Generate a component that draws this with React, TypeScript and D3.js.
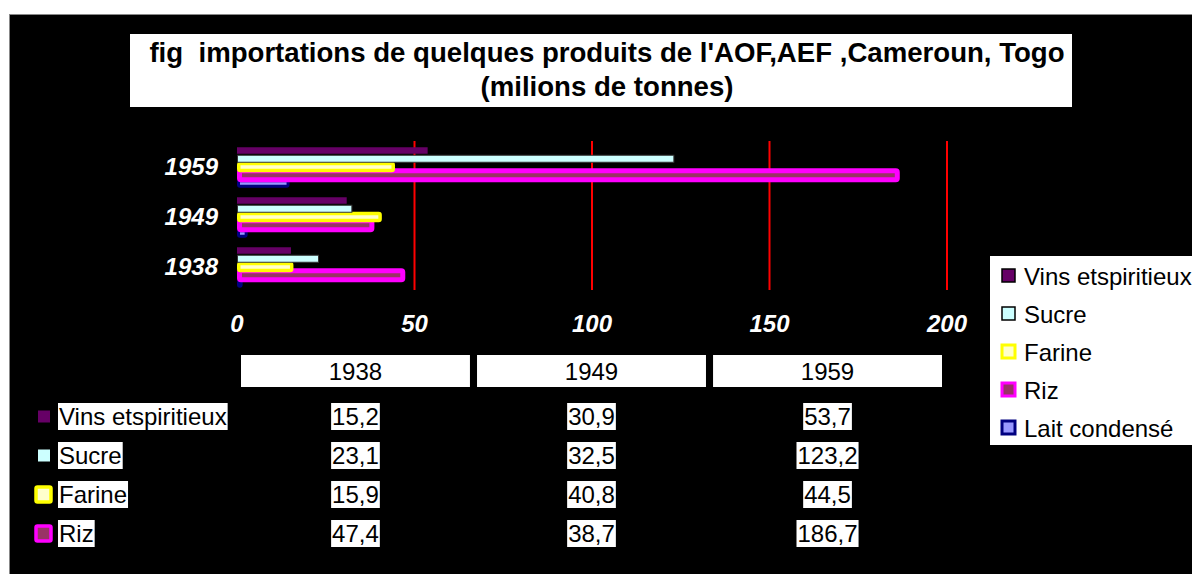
import React, { useEffect, useRef } from 'react';
import * as d3 from 'd3';

const years = ['1938', '1949', '1959'];
const seriesNames = ['Vins etspiritieux', 'Sucre', 'Farine', 'Riz', 'Lait condensé'];
const vins = [15.2, 30.9, 53.7];
const sucre = [23.1, 32.5, 123.2];
const farine = [15.9, 40.8, 44.5];
const riz = [47.4, 38.7, 186.7];
const lait = [1.6, 3.0, 14.8]; // not in the table
const xTicks = [0, 50, 100, 150, 200];
const titleLines = ["fig  importations de quelques produits de l'AOF,AEF ,Cameroun, Togo", '(milions de tonnes)'];

// look of each series (same order as seriesNames)
const seriesStyle = [
  { fill: '#660066', stroke: '#660066', sw: 0, h: 6.5 },
  { fill: '#CCFFFF', stroke: '#333333', sw: 1, h: 7 },
  { fill: '#FFFFCC', stroke: '#FFFF00', sw: 3.5, h: 7 },
  { fill: '#993366', stroke: '#FF00FF', sw: 5, h: 9 },
  { fill: '#9999FF', stroke: '#000080', sw: 3, h: 5.5 },
];

const FONT = '"Liberation Sans", Arial, sans-serif';

const App = () => {
  const svgRef = useRef<SVGSVGElement>(null);

  useEffect(() => {
    const svg = d3.select(svgRef.current);
    svg.selectAll('*').remove();

    const values = [vins, sucre, farine, riz, lait];
    const fmt = (v: number) => v.toFixed(1).replace('.', ',');

    // frame
    svg.append('rect')
      .attr('x', 9.5).attr('y', 14.5).attr('width', 1190).attr('height', 570)
      .attr('fill', '#000').attr('stroke', '#888');

    // title
    svg.append('rect')
      .attr('x', 130).attr('y', 34).attr('width', 942).attr('height', 73)
      .attr('fill', '#fff');
    svg.selectAll('.title')
      .data(titleLines)
      .enter()
      .append('text')
      .attr('x', 607)
      .attr('y', (d, i) => 62 + i * 34)
      .attr('text-anchor', 'middle')
      .style('white-space', 'pre')
      .style('font-family', FONT)
      .style('font-weight', 'bold')
      .style('font-size', '27.6px')
      .attr('fill', '#000')
      .text(d => d);

    // scales
    const xScale = d3.scaleLinear().domain([0, 200]).range([237, 947]);
    const yScale = d3.scaleBand()
      .domain([...years].reverse())
      .range([142, 292])
      .paddingInner(0.175)
      .paddingOuter(0.0875);
    const inner = d3.scaleBand().domain(seriesNames).range([0, yScale.bandwidth()]);

    // grid lines
    svg.selectAll('.grid')
      .data(xTicks.filter(t => t > 0))
      .enter()
      .append('line')
      .attr('x1', d => xScale(d)).attr('x2', d => xScale(d))
      .attr('y1', 141).attr('y2', 290)
      .attr('stroke', '#FF0000').attr('stroke-width', 2);

    // bars, drawn last series first
    const order = d3.range(seriesNames.length).reverse();
    order.forEach(si => {
      const st = seriesStyle[si];
      svg.append('g')
        .selectAll('rect')
        .data(years.map((y, i) => ({ year: y, v: values[si][i] })))
        .enter()
        .append('rect')
        .attr('x', xScale(0) + st.sw / 2)
        .attr('y', d => yScale(d.year)! + inner(seriesNames[si])! + inner.bandwidth() / 2 - st.h / 2)
        .attr('width', d => Math.max(xScale(d.v) - xScale(0) - st.sw, 0.5))
        .attr('height', st.h)
        .attr('rx', st.sw > 2 ? 1.5 : 0)
        .attr('fill', st.fill)
        .attr('stroke', st.sw > 0 ? st.stroke : 'none')
        .attr('stroke-width', st.sw);
    });

    // category labels
    svg.selectAll('.ylab')
      .data(years)
      .enter()
      .append('text')
      .attr('x', 218)
      .attr('y', d => yScale(d)! + yScale.bandwidth() / 2 + 8)
      .attr('text-anchor', 'end')
      .style('font-family', FONT)
      .style('font-weight', 'bold')
      .style('font-style', 'italic')
      .style('font-size', '24px')
      .attr('fill', '#fff')
      .text(d => d);

    // x tick labels
    svg.selectAll('.xlab')
      .data(xTicks)
      .enter()
      .append('text')
      .attr('x', d => xScale(d))
      .attr('y', 332)
      .attr('text-anchor', 'middle')
      .style('font-family', FONT)
      .style('font-weight', 'bold')
      .style('font-style', 'italic')
      .style('font-size', '24px')
      .attr('fill', '#fff')
      .text(d => d);

    // data table
    const col = d3.scaleBand().domain(years).range([241, 942]).paddingInner(0.03);
    const rowNames = seriesNames.slice(0, 4);
    const row = d3.scalePoint().domain(rowNames).range([416, 533]);

    years.forEach(y => {
      svg.append('rect')
        .attr('x', col(y)!).attr('y', 355)
        .attr('width', col.bandwidth()).attr('height', 32)
        .attr('fill', '#fff');
      svg.append('text')
        .attr('x', col(y)! + col.bandwidth() / 2)
        .attr('y', 380)
        .attr('text-anchor', 'middle')
        .style('font-family', FONT)
        .style('font-size', '24px')
        .attr('fill', '#000')
        .text(y);
    });

    const boxedText = (x: number, cy: number, txt: string, anchor: string) => {
      const g = svg.append('g');
      const bg = g.append('rect').attr('fill', '#fff');
      const t = g.append('text')
        .attr('x', x)
        .attr('y', cy + 8.5)
        .attr('text-anchor', anchor)
        .style('font-family', FONT)
        .style('font-size', '24px')
        .attr('fill', '#000')
        .text(txt);
      const w = (t.node() as SVGTextElement).getComputedTextLength();
      const left = anchor === 'middle' ? x - w / 2 : x;
      bg.attr('x', left - 1).attr('y', cy - 13).attr('width', w + 2).attr('height', 27);
    };

    rowNames.forEach((name, si) => {
      const cy = row(name)!;
      const st = seriesStyle[si];
      if (st.sw > 2) {
        svg.append('rect')
          .attr('x', 36).attr('y', cy - 7).attr('width', 15).attr('height', 15)
          .attr('rx', 1.5)
          .attr('fill', st.fill).attr('stroke', st.stroke).attr('stroke-width', 3.5);
      } else {
        svg.append('rect')
          .attr('x', 38).attr('y', cy - 5.5).attr('width', 12).attr('height', 12)
          .attr('fill', st.fill);
      }
      boxedText(59, cy, name, 'start');
      years.forEach((y, i) => {
        boxedText(col(y)! + col.bandwidth() / 2, cy, fmt(values[si][i]), 'middle');
      });
    });

    // legend
    svg.append('rect')
      .attr('x', 990).attr('y', 256).attr('width', 210).attr('height', 189)
      .attr('fill', '#fff');
    const ly = d3.scalePoint().domain(seriesNames).range([276, 428]);
    seriesNames.forEach((name, si) => {
      const st = seriesStyle[si];
      const cy = ly(name)!;
      const bw = st.sw > 2 ? 3 : 1.5;
      svg.append('rect')
        .attr('x', 1002).attr('y', cy - 7).attr('width', 13).attr('height', 13)
        .attr('fill', st.fill)
        .attr('stroke', st.sw > 2 ? st.stroke : '#000')
        .attr('stroke-width', bw);
      svg.append('text')
        .attr('x', 1024)
        .attr('y', cy + 8.5)
        .style('font-family', FONT)
        .style('font-size', '24px')
        .attr('fill', '#000')
        .text(name);
    });
  }, []);

  return (
    <svg
      ref={svgRef}
      width={1192}
      height={574}
      style={{ position: 'absolute', left: 0, top: 0, background: '#fff' }}
    ></svg>
  );
};

export default App;
